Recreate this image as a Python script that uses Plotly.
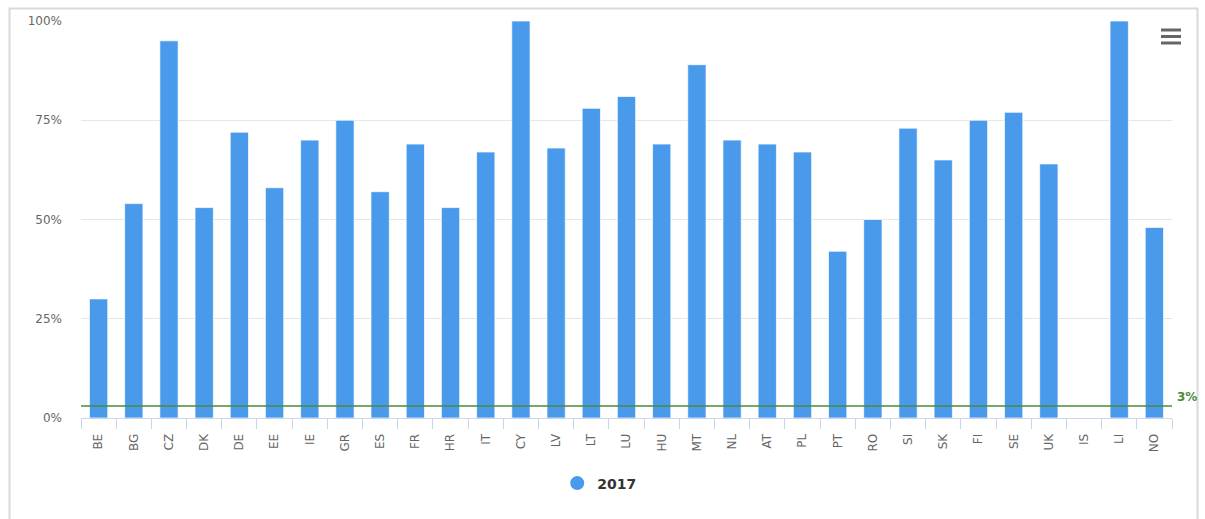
import plotly.graph_objects as go

countries = ["BE", "BG", "CZ", "DK", "DE", "EE", "IE", "GR", "ES", "FR", "HR", "IT", "CY", "LV", "LT",
             "LU", "HU", "MT", "NL", "AT", "PL", "PT", "RO", "SI", "SK", "FI", "SE", "UK", "IS", "LI", "NO"]
values_2017 = [30, 54, 95, 53, 72, 58, 70, 75, 57, 69, 53, 67, 100, 68, 78,
               81, 69, 89, 70, 69, 67, 42, 50, 73, 65, 75, 77, 64, None, 100, 48]
series_name = "2017"
target_value = 3
y_ticks = [0, 25, 50, 75, 100]

BLUE = "#4a9aec"
GREEN = "#4a8a3a"
FONT = "DejaVu Sans"

fig = go.Figure()
fig.add_trace(go.Bar(
    x=countries, y=values_2017, name=series_name, showlegend=False,
    marker=dict(color=BLUE, line=dict(color="rgba(255,255,255,0.7)", width=1)),
    width=0.52,
))
# legend entry with circular symbol
fig.add_trace(go.Scatter(
    x=[None], y=[None], mode="markers", name="<b>" + series_name + "</b>",
    marker=dict(symbol="circle", size=14, color=BLUE), showlegend=True,
))

# target line at 3%
fig.add_shape(type="line", xref="paper", yref="y", x0=0, x1=1, y0=target_value, y1=target_value,
              line=dict(color=GREEN, width=1.5), layer="above")
fig.add_annotation(xref="paper", yref="y", x=1.003, y=target_value, text=f"<b>{target_value}%</b>",
                   showarrow=False, xanchor="left", yanchor="bottom",
                   font=dict(family=FONT, size=12, color=GREEN))

# chart container border (paper coords relative to plot area)
L, R, T, B = 81, 1172, 21, 418
W, H = R - L, B - T
def px(x): return (x - L) / W
def py(y): return (B - y) / H
fig.add_shape(type="rect", xref="paper", yref="paper",
              x0=px(9.5), x1=px(1197.5), y0=py(8.5), y1=py(540),
              line=dict(color="#d9d9d9", width=2), layer="below")
# hamburger menu icon
for yy in (30, 36.5, 43):
    fig.add_shape(type="line", xref="paper", yref="paper",
                  x0=px(1161), x1=px(1181), y0=py(yy), y1=py(yy),
                  line=dict(color="#666666", width=3))

fig.update_layout(
    width=1205, height=519,
    margin=dict(l=L, r=1205 - R, t=T, b=519 - B),
    paper_bgcolor="white", plot_bgcolor="white",
    font=dict(family=FONT, color="#666666", size=12),
    bargap=0.48,
    legend=dict(orientation="h", x=0.475, xanchor="center", y=-0.165, yanchor="middle",
                font=dict(family=FONT, size=14, color="#333333"),
                itemsizing="trace", itemwidth=30),
    xaxis=dict(
        type="category", tickangle=-90, showgrid=False,
        showline=True, linecolor="#ccd6eb", linewidth=1,
        ticks="outside", tickson="boundaries", ticklen=10, tickcolor="#ccd6eb",
        tickfont=dict(family=FONT, size=12, color="#666666"), ticklabelstandoff=10,
        range=[-0.5, len(countries) - 0.5], fixedrange=True,
    ),
    yaxis=dict(
        range=[0, 100], tickvals=y_ticks, ticktext=[f"{v}%" for v in y_ticks],
        showgrid=True, gridcolor="#e6e6e6", gridwidth=1, zeroline=False,
        tickfont=dict(family=FONT, size=12, color="#666666"), ticklabelstandoff=18,
        fixedrange=True,
    ),
)

fig.write_html("out.html")
